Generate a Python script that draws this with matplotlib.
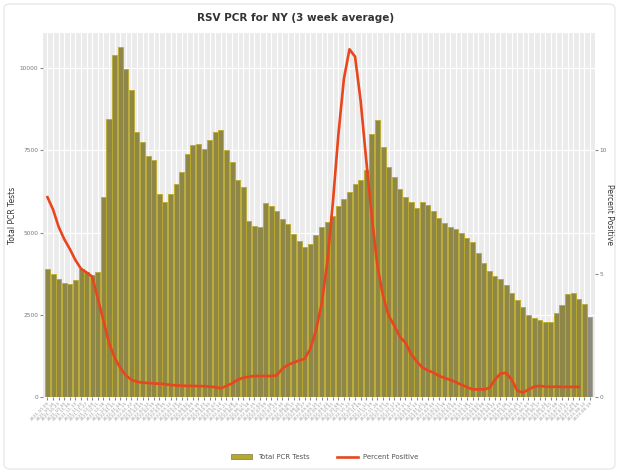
import numpy as np
import pandas as pd
import matplotlib
matplotlib.use("Agg")
import matplotlib.pyplot as plt
from matplotlib.patches import Patch, FancyBboxPatch
from matplotlib.lines import Line2D

# weekly labels along the x axis
weeks = pd.date_range("2021-10-09", periods=98, freq="7D").strftime("%Y-%m-%d").tolist()

# total PCR tests (3 week average)
total_tests = [
    3890, 3750, 3600, 3480, 3450, 3560, 3900, 3800, 3700, 3800,
    6077, 8466, 10396, 10650, 9990, 9329, 8059, 7754, 7317, 7195,
    6179, 5925, 6179, 6463, 6839, 7378, 7652, 7703, 7551, 7825,
    8059, 8110, 7520, 7144, 6585, 6382, 5366, 5213, 5163, 5895,
    5823, 5671, 5417, 5264, 4960, 4756, 4573, 4654, 4939, 5163,
    5315, 5518, 5800, 6027, 6230, 6463, 6606, 6890, 7988, 8436,
    7600, 7000, 6687, 6331, 6077, 5925, 5753, 5925, 5854, 5650,
    5450, 5300, 5180, 5100, 4980, 4850, 4700, 4380, 4090, 3830,
    3690, 3580, 3400, 3170, 2940, 2750, 2480, 2390, 2330, 2290,
    2280, 2560, 2800, 3130, 3170, 2980, 2820, 2420,
]

# percent positive (3 week average), NaN where the line stops
pct_positive = [
    8.1, 7.6, 6.9, 6.4, 6.0, 5.55, 5.2, 5.05, 4.88, 4.0,
    3.1, 2.2, 1.6, 1.19, 0.88, 0.7, 0.62, 0.58, 0.57, 0.55,
    0.54, 0.52, 0.49, 0.47, 0.46, 0.45, 0.45, 0.44, 0.44, 0.42,
    0.40, 0.35, 0.45, 0.55, 0.7, 0.78, 0.82, 0.85, 0.85, 0.85,
    0.85, 0.88, 1.15, 1.3, 1.4, 1.48, 1.55, 1.95, 2.7, 3.75,
    5.4, 7.8, 10.6, 12.9, 14.1, 13.8, 12.0, 9.6, 7.3, 5.3,
    4.1, 3.3, 2.9, 2.45, 2.2, 1.75, 1.45, 1.2, 1.08, 0.99,
    0.86, 0.77, 0.70, 0.6, 0.5, 0.4, 0.31, 0.31, 0.31, 0.36,
    0.7, 0.95, 0.98, 0.7, 0.26, 0.18, 0.3, 0.42, 0.45, 0.42,
    0.41, 0.42, 0.41, 0.41, 0.41, 0.41, np.nan, np.nan,
]

left_ticks = [0, 2500, 5000, 7500, 10000]
right_ticks = [0, 5, 10]

W, H = 619, 473
fig = plt.figure(figsize=(W / 100, H / 100), dpi=100)
fig.patches.append(FancyBboxPatch((4 / W, 4 / H), 1 - 8 / W, 1 - 8 / H,
                                  boxstyle="round,pad=0,rounding_size=0.01",
                                  transform=fig.transFigure, fc="white",
                                  ec="#e4e4e4", lw=0.8, zorder=-5))

ax = fig.add_axes([43 / W, 1 - 397 / H, 552 / W, 364 / H])
ax.set_facecolor("#EBEBEB")
x = np.arange(len(total_tests))
# last week is drawn greyer in the original
fills = ["#8f8747"] * (len(x) - 1) + ["#8e897c"]
edges = ["#bcaa28"] * (len(x) - 1) + ["#a39f90"]
ax.bar(x, total_tests, width=0.9, color=fills, edgecolor=edges,
       linewidth=0.6, zorder=2)
ax.set_xlim(-0.8, len(x) - 1 + 0.9)
ax.set_ylim(0, 11070)
ax.set_yticks(left_ticks)
ax.set_yticklabels([str(t) for t in left_ticks])
ax.set_xticks(x)
ax.set_xticklabels(weeks, rotation=45, ha="right", rotation_mode="anchor",
                   fontsize=3.2, color="#9a9a9a")
ax.grid(True, color="white", lw=0.8)
ax.set_axisbelow(True)
for s in ax.spines.values():
    s.set_visible(False)
ax.tick_params(axis="y", length=2, color="#888888", labelsize=4.2, labelcolor="#777777", pad=1.5)
ax.tick_params(axis="x", length=2, color="#888888", pad=1)
ax.set_ylabel("Total PCR Tests", fontsize=5.5, color="#333333", labelpad=2)

ax2 = ax.twinx()
ax2.plot(x, pct_positive, color="#e8461e", lw=1.9, zorder=3)
ax2.set_ylim(0, 14.76)
ax2.set_yticks(right_ticks)
for s in ax2.spines.values():
    s.set_visible(False)
ax2.tick_params(axis="y", length=2, color="#888888", labelsize=4.2, labelcolor="#777777", pad=1.5)
ax2.set_ylabel("Percent Positive", fontsize=5.5, color="#333333", rotation=270, labelpad=5)

fig.text(296 / W, 1 - 18 / H, "RSV PCR for NY (3 week average)", ha="center", va="center",
         fontsize=7.5, fontweight="bold", color="#333333")

handles = [Patch(facecolor="#b5a82a", edgecolor="#8e8655", lw=0.6),
           Line2D([0], [0], color="#e8461e", lw=1.9)]
fig.legend(handles, ["Total PCR Tests", "Percent Positive"], loc="center",
           bbox_to_anchor=(325 / W, 1 - 457 / H), ncol=2, frameon=False,
           fontsize=5, handlelength=3, columnspacing=4, labelcolor="#555555")

fig.savefig("out.png", dpi=100)
